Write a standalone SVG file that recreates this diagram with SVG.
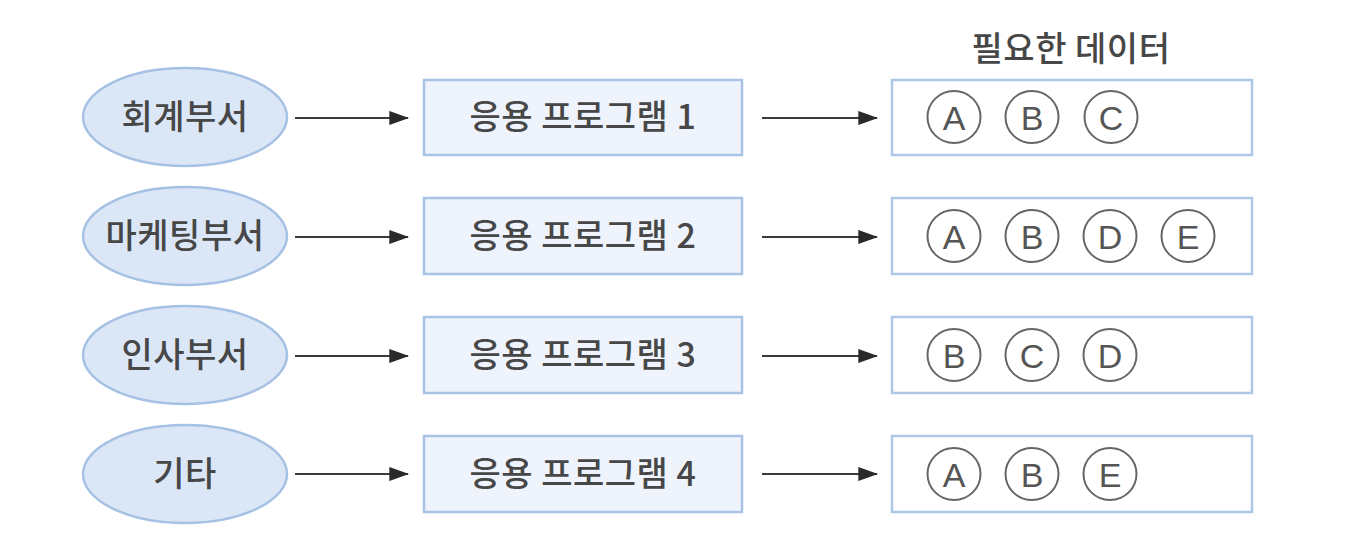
<svg xmlns="http://www.w3.org/2000/svg" width="1372" height="550" viewBox="0 0 1372 550">
<defs>
<style>
.dept ellipse{fill:#dbe7f7;stroke:#a6c1e3;stroke-width:2.5}
.prog rect{fill:#eef3fc;stroke:#a9c3e5;stroke-width:2.5}
.data rect{fill:#ffffff;stroke:#afc7e7;stroke-width:2.5}
.kt{font-family:"Noto Sans CJK KR","Noto Sans",sans-serif;font-size:34px;font-weight:500;fill:#474747;text-anchor:middle;letter-spacing:0.5px}
.item ellipse{fill:none;stroke:#666;stroke-width:2}
.lt{font-family:"Liberation Sans",Arial,sans-serif;font-size:34px;fill:#555;text-anchor:middle}
.conn line{stroke:#3a3a3a;stroke-width:2.2}
</style>
<marker id="arr" markerWidth="9" markerHeight="6.4" refX="8.5" refY="3.2" orient="auto" markerUnits="strokeWidth">
<path d="M0,0 L9,3.2 L0,6.4 Z" fill="#2a2a2a"/>
</marker>
</defs>
<rect width="1372" height="550" fill="#ffffff"/>
<text id="title" class="kt" x="1071" y="61">필요한 데이터</text>
<g id="dept1" class="dept"><ellipse cx="185" cy="117" rx="102" ry="49"/><text class="kt" x="185" y="129">회계부서</text></g>
<g id="dept2" class="dept"><ellipse cx="185" cy="236" rx="102" ry="49"/><text class="kt" x="185" y="248">마케팅부서</text></g>
<g id="dept3" class="dept"><ellipse cx="185" cy="355" rx="102" ry="49"/><text class="kt" x="185" y="367">인사부서</text></g>
<g id="dept4" class="dept"><ellipse cx="185" cy="474" rx="102" ry="49"/><text class="kt" x="185" y="486">기타</text></g>
<g id="prog1" class="prog"><rect x="424" y="80" width="318" height="75"/><text class="kt" x="583" y="129">응용 프로그램 1</text></g>
<g id="prog2" class="prog"><rect x="424" y="198" width="318" height="76"/><text class="kt" x="583" y="248">응용 프로그램 2</text></g>
<g id="prog3" class="prog"><rect x="424" y="317" width="318" height="76"/><text class="kt" x="583" y="367">응용 프로그램 3</text></g>
<g id="prog4" class="prog"><rect x="424" y="436" width="318" height="76"/><text class="kt" x="583" y="486">응용 프로그램 4</text></g>
<g id="data1" class="data"><rect x="892" y="80" width="360" height="75"/>
<g class="item"><ellipse cx="954" cy="117" rx="26.5" ry="26"/><text class="lt" x="954" y="129.5">A</text></g>
<g class="item"><ellipse cx="1032" cy="117" rx="26.5" ry="26"/><text class="lt" x="1032" y="129.5">B</text></g>
<g class="item"><ellipse cx="1111" cy="117" rx="26.5" ry="26"/><text class="lt" x="1111" y="129.5">C</text></g>
</g>
<g id="data2" class="data"><rect x="892" y="198" width="360" height="76"/>
<g class="item"><ellipse cx="954" cy="236" rx="26.5" ry="26"/><text class="lt" x="954" y="248.5">A</text></g>
<g class="item"><ellipse cx="1032" cy="236" rx="26.5" ry="26"/><text class="lt" x="1032" y="248.5">B</text></g>
<g class="item"><ellipse cx="1110" cy="236" rx="26.5" ry="26"/><text class="lt" x="1110" y="248.5">D</text></g>
<g class="item"><ellipse cx="1188" cy="236" rx="26.5" ry="26"/><text class="lt" x="1188" y="248.5">E</text></g>
</g>
<g id="data3" class="data"><rect x="892" y="317" width="360" height="76"/>
<g class="item"><ellipse cx="954" cy="355" rx="26.5" ry="26"/><text class="lt" x="954" y="367.5">B</text></g>
<g class="item"><ellipse cx="1032" cy="355" rx="26.5" ry="26"/><text class="lt" x="1032" y="367.5">C</text></g>
<g class="item"><ellipse cx="1110" cy="355" rx="26.5" ry="26"/><text class="lt" x="1110" y="367.5">D</text></g>
</g>
<g id="data4" class="data"><rect x="892" y="436" width="360" height="76"/>
<g class="item"><ellipse cx="954" cy="474" rx="26.5" ry="26"/><text class="lt" x="954" y="486.5">A</text></g>
<g class="item"><ellipse cx="1032" cy="474" rx="26.5" ry="26"/><text class="lt" x="1032" y="486.5">B</text></g>
<g class="item"><ellipse cx="1110" cy="474" rx="26.5" ry="26"/><text class="lt" x="1110" y="486.5">E</text></g>
</g>
<g id="connectors" class="conn">
<line x1="295" y1="118" x2="408" y2="118" marker-end="url(#arr)"/>
<line x1="295" y1="237" x2="408" y2="237" marker-end="url(#arr)"/>
<line x1="295" y1="356" x2="408" y2="356" marker-end="url(#arr)"/>
<line x1="295" y1="474" x2="408" y2="474" marker-end="url(#arr)"/>
<line x1="762" y1="118" x2="877" y2="118" marker-end="url(#arr)"/>
<line x1="762" y1="237" x2="877" y2="237" marker-end="url(#arr)"/>
<line x1="762" y1="356" x2="877" y2="356" marker-end="url(#arr)"/>
<line x1="762" y1="474" x2="877" y2="474" marker-end="url(#arr)"/>
</g>
</svg>
